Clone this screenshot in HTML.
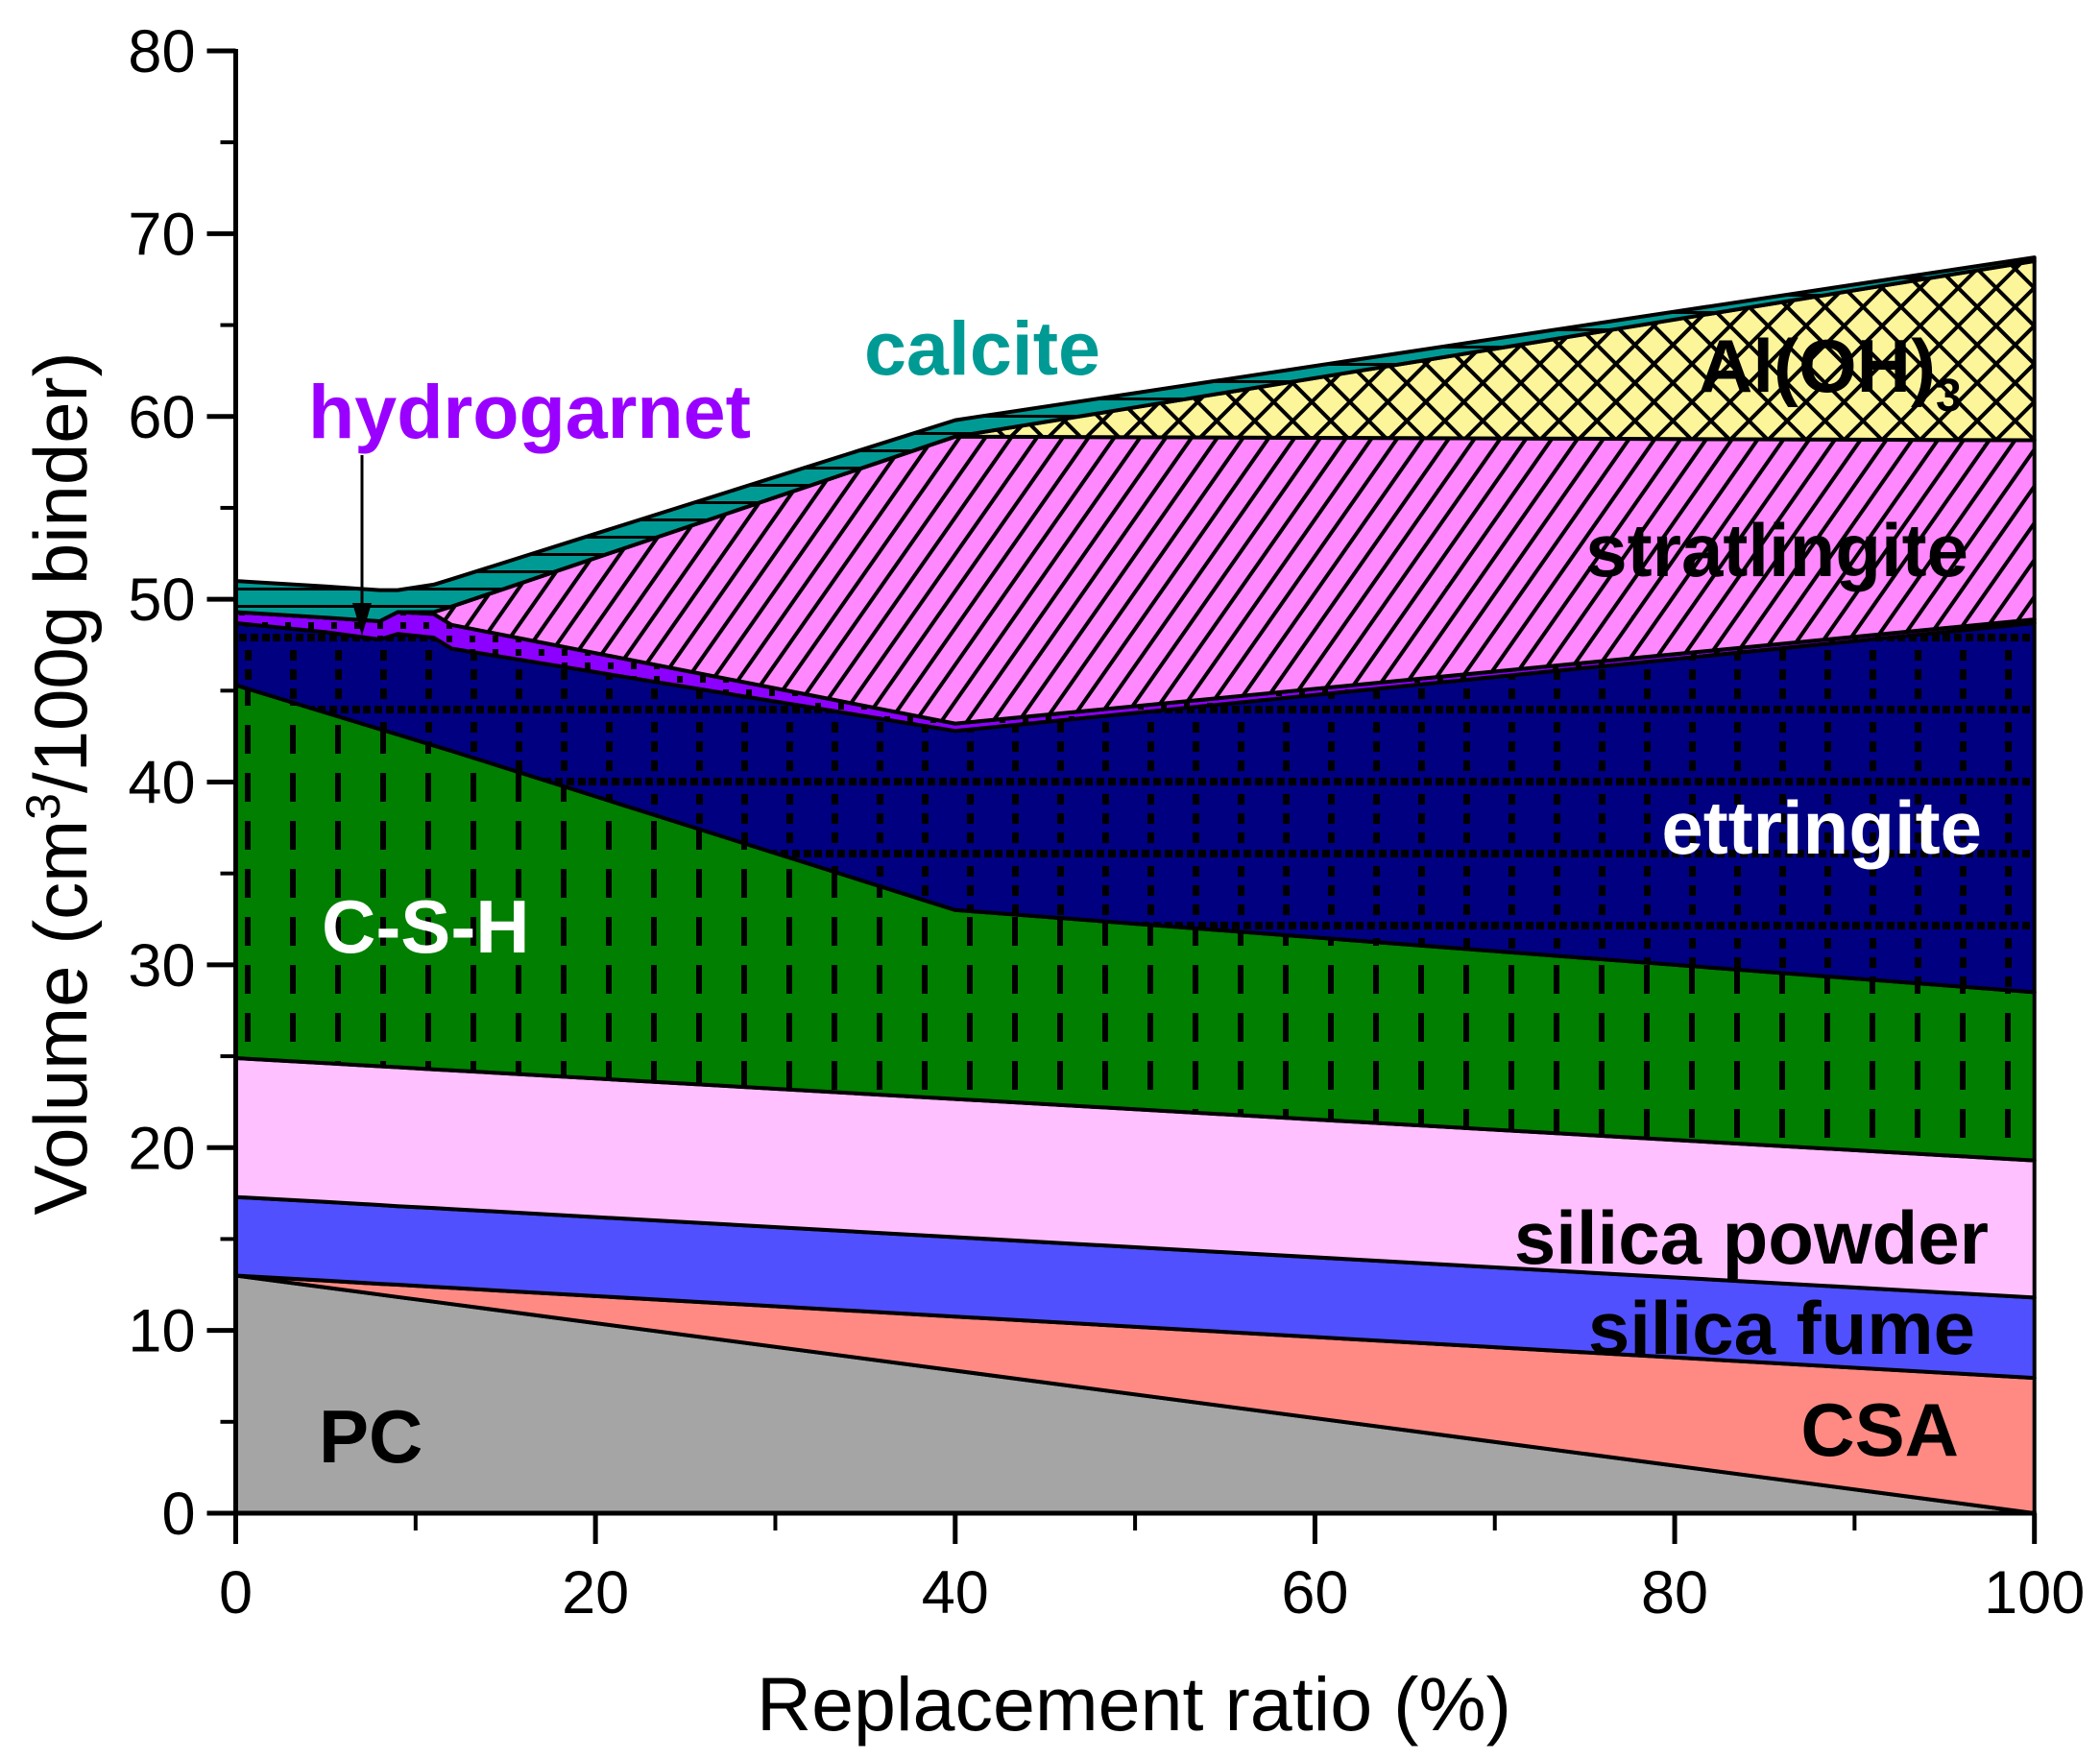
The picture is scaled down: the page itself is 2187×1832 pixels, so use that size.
<!DOCTYPE html>
<html><head><meta charset="utf-8"><style>
html,body{margin:0;padding:0;background:#fff;}
svg{display:block;font-family:"Liberation Sans",Arial,sans-serif;}
</style></head><body>
<svg id="chart" width="2187" height="1832" viewBox="0 0 2187 1832" xmlns="http://www.w3.org/2000/svg">
<defs>
<pattern id="p-ett" patternUnits="userSpaceOnUse" width="47" height="75">
<rect width="47" height="75" fill="#000080"/>
<rect x="20" y="2" width="7" height="11" fill="#000"/><rect x="20" y="22" width="7" height="11" fill="#000"/><rect x="20" y="42" width="7" height="11" fill="#000"/>
<rect x="2" y="60" width="8" height="8" fill="#000"/><rect x="14" y="60" width="8" height="8" fill="#000"/><rect x="26" y="60" width="8" height="8" fill="#000"/><rect x="38" y="60" width="8" height="8" fill="#000"/>
</pattern>
<pattern id="p-csh" patternUnits="userSpaceOnUse" width="47" height="50">
<rect width="47" height="50" fill="#007f00"/>
<rect x="20" y="5" width="6" height="30" fill="#000"/>
</pattern>
<pattern id="p-strat" patternUnits="userSpaceOnUse" width="22" height="22" patternTransform="rotate(35)">
<rect width="22" height="22" fill="#ff88ff"/>
<rect x="0" y="0" width="4" height="22" fill="#000"/>
</pattern>
<pattern id="p-al" patternUnits="userSpaceOnUse" width="28" height="28" patternTransform="rotate(45)">
<rect width="28" height="28" fill="#fdf59a"/>
<rect x="0" y="0" width="4" height="28" fill="#000"/><rect x="0" y="0" width="28" height="4" fill="#000"/>
</pattern>
<pattern id="p-cal" patternUnits="userSpaceOnUse" width="40" height="18">
<rect width="40" height="18" fill="#009a94"/>
<rect x="0" y="0" width="40" height="3" fill="#000"/>
</pattern>
<pattern id="p-hg" patternUnits="userSpaceOnUse" width="24" height="14">
<rect width="24" height="14" fill="#8c00ff"/>
<rect x="9" y="4" width="6" height="7" fill="#000"/>
</pattern>
</defs>
<g id="areas"></g>
<g id="axes"></g>
<g id="labels">
<text x="332" y="1523" font-size="78" font-weight="bold" fill="#000">PC</text>
<text x="2040" y="1516" font-size="78" font-weight="bold" fill="#000" text-anchor="end">CSA</text>
<text x="2057" y="1410" font-size="78" font-weight="bold" fill="#000" text-anchor="end">silica fume</text>
<text x="2071" y="1316" font-size="78" font-weight="bold" fill="#000" text-anchor="end">silica powder</text>
<text x="335" y="992" font-size="78" font-weight="bold" fill="#fff">C-S-H</text>
<text x="2064" y="889" font-size="78" font-weight="bold" fill="#fff" text-anchor="end">ettringite</text>
<text x="2050" y="600" font-size="78" font-weight="bold" fill="#000" text-anchor="end">stratlingite</text>
<text x="1769" y="408" font-size="78" font-weight="bold" fill="#000">Al(OH)<tspan font-size="48" dy="20">3</tspan></text>
<text x="900" y="390" font-size="79" font-weight="bold" fill="#009a94">calcite</text>
<text x="321" y="456" font-size="79" font-weight="bold" fill="#9900ff">hydrogarnet</text>
<line x1="377" y1="474" x2="377" y2="630" stroke="#000" stroke-width="3"/>
<polygon points="367,628 387,628 377,662" fill="#000"/>
<text transform="translate(90,816) rotate(-90)" font-size="78" text-anchor="middle" fill="#000">Volume (cm<tspan font-size="50" dy="-28">3</tspan><tspan dy="28">/100g binder)</tspan></text>
<text x="1181" y="1802" font-size="79" text-anchor="middle" fill="#000">Replacement ratio (%)</text>
</g>
</svg>
<script>
const xs = [0,5,8,9,11,12,40,100];
const topPC = [13,12.35,11.96,11.83,11.57,11.44,7.8,0];
const topCSA = [13,12.72,12.55,12.5,12.38,12.33,10.76,7.4];
const topSF = [17.3,17.03,16.86,16.8,16.7,16.64,15.1,11.8];
const topSP = [24.9,24.62,24.45,24.4,24.28,24.23,22.66,19.3];
const topCSH = [45.3,43.8,42.9,42.6,42.0,41.7,33,28.5];
const topEtt = [48.7,48.2,47.8,48.1,47.9,47.3,42.8,48.7];
const topHG = [49.3,49.0,48.8,49.3,49.2,48.6,43.2,48.9];
const topStrat = [49.3,49.0,48.8,49.3,49.3,49.6,58.9,58.7];
const topAl = [49.3,49.0,48.8,49.3,49.3,49.6,58.9,68.5];
const topCal = [51,50.7,50.5,50.5,50.8,51.1,59.8,68.7];
const zeros = [0,0,0,0,0,0,0,0];
const xTicks = [0,20,40,60,80,100];
const yTicks = [0,10,20,30,40,50,60,70,80];

const X0=245.5, X1=2118.7, Y0=1576, Y1=53;
const sx = v => X0 + (X1-X0)*v/100;
const sy = v => Y0 - (Y0-Y1)*v/80;
const NS='http://www.w3.org/2000/svg';
const areas=document.getElementById('areas');
const axes=document.getElementById('axes');

function band(lo, hi, fill, name){
  let d='M'+xs.map((x,i)=>sx(x).toFixed(1)+','+sy(hi[i]).toFixed(1)).join(' L');
  for(let i=xs.length-1;i>=0;i--) d+=' L'+sx(xs[i]).toFixed(1)+','+sy(lo[i]).toFixed(1);
  d+=' Z';
  const p=document.createElementNS(NS,'path');
  p.setAttribute('d',d);
  p.setAttribute('fill',fill);
  p.setAttribute('stroke','#000');
  p.setAttribute('stroke-width','4');
  p.setAttribute('stroke-linejoin','round');
  
  
  areas.appendChild(p);
}
band(zeros, topPC, '#a5a5a5', 'area-pc');
band(topPC, topCSA, '#ff8a84', 'area-csa');
band(topCSA, topSF, '#5050ff', 'area-silica-fume');
band(topSF, topSP, '#ffc0ff', 'area-silica-powder');
band(topSP, topCSH, 'url(#p-csh)', 'area-csh');
band(topCSH, topEtt, 'url(#p-ett)', 'area-ettringite');
band(topEtt, topHG, 'url(#p-hg)', 'area-hydrogarnet');
band(topHG, topStrat, 'url(#p-strat)', 'area-stratlingite');
band(topStrat, topAl, 'url(#p-al)', 'area-aloh3');
band(topAl, topCal, 'url(#p-cal)', 'area-calcite');

function line(x1,y1,x2,y2,w,name){
  const l=document.createElementNS(NS,'line');
  l.setAttribute('x1',x1);l.setAttribute('y1',y1);l.setAttribute('x2',x2);l.setAttribute('y2',y2);
  l.setAttribute('stroke','#000');l.setAttribute('stroke-width',w);
  
  
  axes.appendChild(l);
}
function txt(x,y,s,anchor,name){
  const t=document.createElementNS(NS,'text');
  t.setAttribute('x',x);t.setAttribute('y',y);t.setAttribute('font-size','63');
  t.setAttribute('text-anchor',anchor);t.textContent=s;
  
  
  axes.appendChild(t);
}
line(X0,Y1-2,X0,Y0+2,5,'y-axis-line');
line(X0-2,Y0,X1+2,Y0,5,'x-axis-line');
yTicks.forEach(v=>{
  line(X0-30,sy(v),X0,sy(v),5,'y-tick');
  txt(X0-42,sy(v)+22,String(v),'end','y-tick-label');
  if(v<80) line(X0-16,sy(v+5),X0,sy(v+5),4,'y-minor-tick');
});
xTicks.forEach(v=>{
  line(sx(v),Y0,sx(v),Y0+32,5,'x-tick');
  txt(sx(v),Y0+104,String(v),'middle','x-tick-label');
  if(v<100) line(sx(v+10),Y0,sx(v+10),Y0+18,4,'x-minor-tick');
});
</script>
</body></html>
